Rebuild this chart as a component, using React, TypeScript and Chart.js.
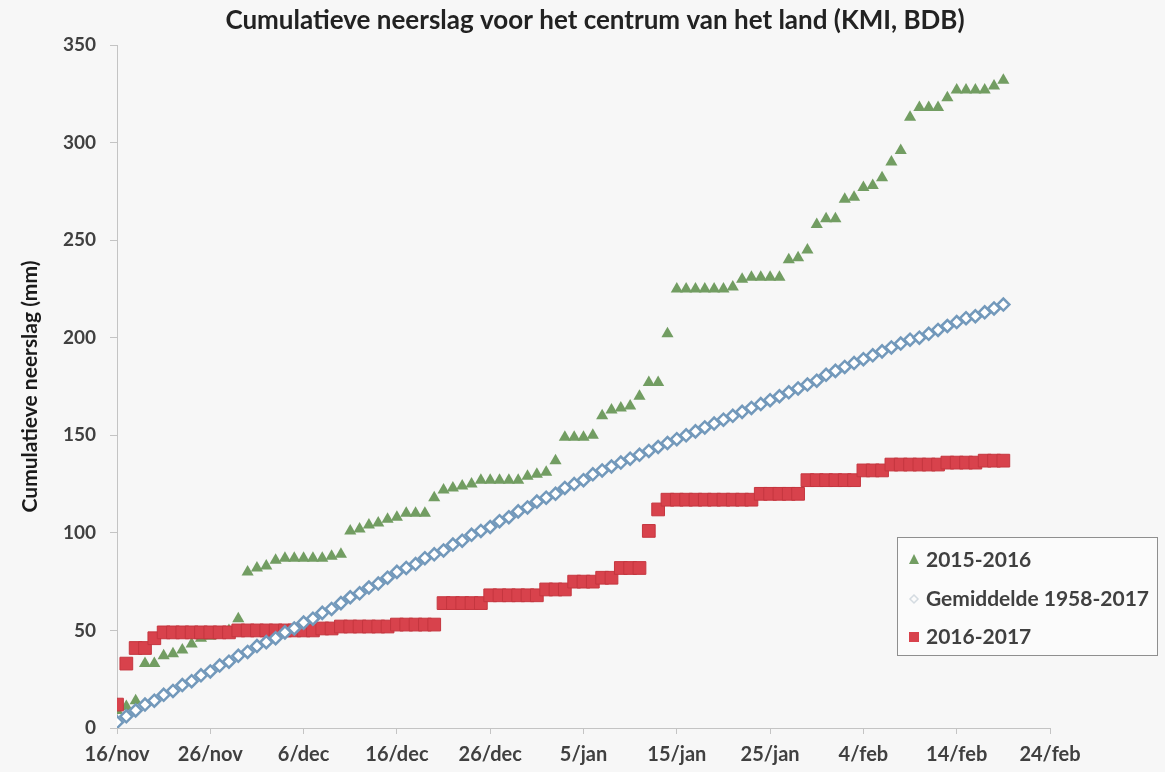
import React, { useEffect, useRef } from "react";
import { Chart, registerables } from "chart.js";

Chart.register(...registerables);

const TITLE = "Cumulatieve neerslag voor het centrum van het land (KMI, BDB)";
const Y_TITLE = "Cumulatieve neerslag (mm)";
const X_TICK_LABELS = ["16/nov", "26/nov", "6/dec", "16/dec", "26/dec", "5/jan", "15/jan", "25/jan", "4/feb", "14/feb", "24/feb"];
const SERIES_NAMES = ["2015-2016", "Gemiddelde 1958-2017", "2016-2017"];

// daily cumulative precipitation (mm), day 0 = 16/nov
const season2015 = [
  9, 11, 14, 33, 33, 37, 38, 40, 43, 46,
  47, 48, 50, 56, 80, 82, 83, 86, 87, 87,
  87, 87, 87, 88, 89, 101, 102, 104, 105, 107,
  108, 110, 110, 110, 118, 122, 123, 124, 125, 127,
  127, 127, 127, 127, 129, 130, 131, 137, 149, 149,
  149, 150, 160, 163, 164, 165, 170, 177, 177, 202,
  225, 225, 225, 225, 225, 225, 226, 230, 231, 231,
  231, 231, 240, 241, 245, 258, 261, 261, 271, 272,
  277, 278, 282, 290, 296, 313, 318, 318, 318, 323,
  327, 327, 327, 327, 329, 332,
];

const average = [
  3, 6, 9, 12, 14, 17, 19, 22, 24, 27,
  29, 32, 34, 37, 39, 42, 44, 46, 49, 51,
  54, 56, 59, 61, 64, 67, 69, 72, 74, 77,
  80, 82, 84, 87, 89, 91, 94, 96, 99, 101,
  103, 106, 108, 111, 113, 116, 118, 120, 123, 125,
  127, 130, 132, 134, 136, 138, 140, 142, 144, 146,
  148, 150, 152, 154, 156, 158, 160, 162, 164, 166,
  168, 170, 172, 174, 176, 178, 181, 183, 185, 187,
  189, 191, 193, 195, 197, 199, 200, 202, 204, 206,
  208, 210, 211, 213, 215, 217,
];

const season2016 = [
  12, 33, 41, 41, 46, 49, 49, 49, 49, 49,
  49, 49, 49, 50, 50, 50, 50, 50, 50, 50,
  50, 50, 51, 51, 52, 52, 52, 52, 52, 52,
  53, 53, 53, 53, 53, 64, 64, 64, 64, 64,
  68, 68, 68, 68, 68, 68, 71, 71, 71, 75,
  75, 75, 77, 77, 82, 82, 82, 101, 112, 117,
  117, 117, 117, 117, 117, 117, 117, 117, 117, 120,
  120, 120, 120, 120, 127, 127, 127, 127, 127, 127,
  132, 132, 132, 135, 135, 135, 135, 135, 135, 136,
  136, 136, 136, 137, 137, 137,
];

const FONT = "Lato, 'Open Sans', sans-serif";
const GREEN = "#729d62";
const RED = "#d8424c";
const RED_BORDER = "#c5363f";
const BLUE = "#7399bb";
const TEXT = "#404040";

const toPoints = (arr: number[]) => arr.map((v, i) => ({ x: i, y: v }));

const titlePlugin = {
  id: "customTitle",
  afterDraw(chart: any) {
    const ctx = chart.ctx;
    ctx.save();
    ctx.font = `bold 26px ${FONT}`;
    ctx.fillStyle = "#222222";
    ctx.textAlign = "center";
    ctx.textBaseline = "middle";
    ctx.fillText(TITLE, 595, 21);
    ctx.restore();
  },
};

const legendPlugin = {
  id: "customLegend",
  afterDraw(chart: any) {
    const ctx = chart.ctx;
    ctx.save();
    const bx = 897.5, by = 537.5, bw = 260, bh = 118;
    ctx.fillStyle = "#fbfbfb";
    ctx.fillRect(bx, by, bw, bh);
    ctx.strokeStyle = "#8f8f8f";
    ctx.lineWidth = 1;
    ctx.strokeRect(bx, by, bw, bh);
    const rows = [560, 599, 637];
    const mx = 914;
    // triangle
    ctx.fillStyle = GREEN;
    ctx.beginPath();
    ctx.moveTo(mx, rows[0] - 6);
    ctx.lineTo(mx + 5, rows[0] + 4);
    ctx.lineTo(mx - 5, rows[0] + 4);
    ctx.closePath();
    ctx.fill();
    // diamond
    ctx.strokeStyle = "#d4dbe1";
    ctx.lineWidth = 1.5;
    ctx.beginPath();
    ctx.moveTo(mx, rows[1] - 4);
    ctx.lineTo(mx + 4, rows[1]);
    ctx.lineTo(mx, rows[1] + 4);
    ctx.lineTo(mx - 4, rows[1]);
    ctx.closePath();
    ctx.stroke();
    // square
    ctx.fillStyle = RED;
    ctx.fillRect(mx - 5, rows[2] - 5, 10, 10);
    ctx.font = `bold 21px ${FONT}`;
    ctx.fillStyle = TEXT;
    ctx.textAlign = "left";
    ctx.textBaseline = "middle";
    SERIES_NAMES.forEach((name, i) => ctx.fillText(name, 926, rows[i]));
    ctx.restore();
  },
};

export default function App() {
  const canvasRef = useRef<HTMLCanvasElement | null>(null);

  useEffect(() => {
    if (!canvasRef.current) return;
    const chart = new Chart(canvasRef.current, {
      type: "scatter",
      data: {
        datasets: [
          {
            label: SERIES_NAMES[0],
            data: toPoints(season2015),
            pointStyle: "triangle",
            pointRadius: 7,
            backgroundColor: GREEN,
            borderColor: GREEN,
            borderWidth: 0,
            showLine: false,
            order: 3,
          },
          {
            label: SERIES_NAMES[1],
            data: toPoints(average),
            pointStyle: "rectRot",
            pointRadius: 6,
            backgroundColor: "#ffffff",
            borderColor: BLUE,
            borderWidth: 2.5,
            showLine: false,
            order: 1,
          },
          {
            label: SERIES_NAMES[2],
            data: toPoints(season2016),
            pointStyle: "rect",
            pointRadius: 9,
            backgroundColor: RED,
            borderColor: RED_BORDER,
            borderWidth: 1,
            showLine: false,
            order: 2,
          },
        ],
      },
      options: {
        animation: false,
        responsive: false,
        devicePixelRatio: 1,
        layout: { padding: { top: 45, right: 115, left: 0, bottom: 0 } },
        plugins: {
          legend: { display: false },
          title: { display: false },
          tooltip: { enabled: false },
        },
        scales: {
          x: {
            type: "linear",
            min: 0,
            max: 100,
            afterFit: (scale: any) => {
              scale.height = 44;
            },
            ticks: {
              stepSize: 10,
              autoSkip: false,
              maxRotation: 0,
              padding: 9,
              color: TEXT,
              font: { family: FONT, size: 20, weight: "bold" },
              callback: (v: any) => X_TICK_LABELS[Math.round(Number(v) / 10)] ?? "",
            },
            grid: {
              display: true,
              drawOnChartArea: false,
              drawTicks: true,
              tickLength: 6,
              color: "#c4c4c4",
            },
            border: { display: true, color: "#c4c4c4", width: 1 },
          },
          y: {
            min: 0,
            max: 350,
            afterFit: (scale: any) => {
              scale.width = 117;
            },
            ticks: {
              stepSize: 50,
              padding: 14,
              color: TEXT,
              font: { family: FONT, size: 19, weight: "bold" },
            },
            grid: {
              display: true,
              drawOnChartArea: false,
              drawTicks: true,
              tickLength: 7,
              color: "#c4c4c4",
            },
            border: { display: true, color: "#c4c4c4", width: 1 },
            title: {
              display: true,
              text: Y_TITLE,
              color: "#1a1a1a",
              font: { family: FONT, size: 21, weight: "bold" },
              padding: { top: 18, bottom: 0 },
            },
          },
        },
      },
      plugins: [titlePlugin, legendPlugin],
    });
    return () => chart.destroy();
  }, []);

  return (
    <div
      style={{
        position: "absolute",
        left: 0,
        top: 0,
        width: 1165,
        height: 772,
        background: "#f7f7f7",
      }}
    >
      <canvas ref={canvasRef} width={1165} height={772} />
    </div>
  );
}
